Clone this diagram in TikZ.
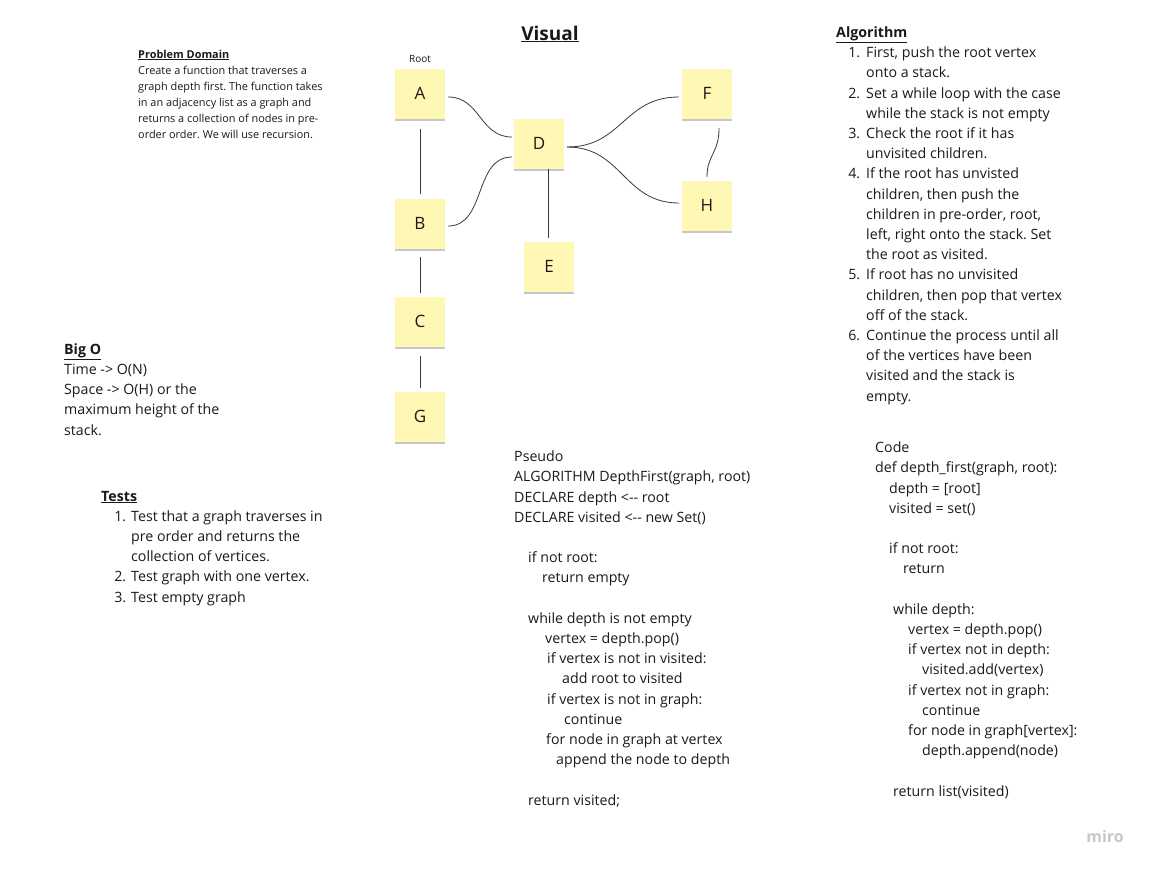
\documentclass[tikz,border=0pt]{standalone}
\usepackage{fontspec}
\setmainfont{Open Sans}
\usetikzlibrary{shadows}
\definecolor{sticky}{HTML}{FFF8B4}
\definecolor{ink}{HTML}{1A1A1A}
\definecolor{edgec}{HTML}{3A3A3A}
\definecolor{logoc}{HTML}{C8C8C8}
\newcommand{\ul}[1]{\underline{#1}}
\frenchspacing
\begin{document}
\begin{tikzpicture}[x=1pt,y=-1pt,
  note/.style={fill=sticky, minimum width=50pt, minimum height=50pt, inner sep=0pt,
    font=\fontsize{17}{20}\selectfont, text=ink,
    drop shadow={shadow xshift=0pt, shadow yshift=-2.5pt, opacity=0.22, fill=black}},
  edge/.style={draw=edgec, line width=0.8pt},
  txt/.style={anchor=base west, align=left, inner sep=0pt, text=ink},
  body/.style={txt, font=\fontsize{14.2}{20.2}\selectfont},
  small/.style={txt, font=\fontsize{10.9}{16}\selectfont}]
\useasboundingbox[fill=white] (0,0) rectangle (1150,868);

% title
\node[txt, anchor=base, font=\fontsize{19}{22}\selectfont\bfseries] (title) at (550,40) {\ul{Visual}};

% problem domain (anchored at the baseline of its last line)
\node[small] (pd) at (138,138) {\textbf{\ul{Problem Domain}}\\
Create a function that traverses a\\
graph depth first. The function takes\\
in an adjacency list as a graph and\\
returns a collection of nodes in pre-\\
order order. We will use recursion.};

% Big O
\node[body] (bigo) at (64,435) {\textbf{\ul{Big O}}\\
Time -> O(N)\\
Space -> O(H) or the\\
maximum height of the\\
stack.};

% Tests
\node[body] (tests) at (101,602) {\textbf{\ul{Tests}}\\
\makebox[25pt][r]{1.}\hspace{5pt}Test that a graph traverses in\\
\hspace*{30pt}pre order and returns the\\
\hspace*{30pt}collection of vertices.\\
\makebox[25pt][r]{2.}\hspace{5pt}Test graph with one vertex.\\
\makebox[25pt][r]{3.}\hspace{5pt}Test empty graph};

% Algorithm
\node[body] (algo) at (836,401) {\textbf{\ul{Algorithm}}\\
\makebox[24pt][r]{1.}\hspace{6pt}First, push the root vertex\\
\hspace*{30pt}onto a stack.\\
\makebox[24pt][r]{2.}\hspace{6pt}Set a while loop with the case\\
\hspace*{30pt}while the stack is not empty\\
\makebox[24pt][r]{3.}\hspace{6pt}Check the root if it has\\
\hspace*{30pt}unvisited children.\\
\makebox[24pt][r]{4.}\hspace{6pt}If the root has unvisted\\
\hspace*{30pt}children, then push the\\
\hspace*{30pt}children in pre-order, root,\\
\hspace*{30pt}left, right onto the stack. Set\\
\hspace*{30pt}the root as visited.\\
\makebox[24pt][r]{5.}\hspace{6pt}If root has no unvisited\\
\hspace*{30pt}children, then pop that vertex\\
\hspace*{30pt}off of the stack.\\
\makebox[24pt][r]{6.}\hspace{6pt}Continue the process until all\\
\hspace*{30pt}of the vertices have been\\
\hspace*{30pt}visited and the stack is\\
\hspace*{30pt}empty.};

% Pseudo
\node[body] (pseudo) at (514,805) {Pseudo\\
ALGORITHM DepthFirst(graph, root)\\
DECLARE depth <-{}- root\\
DECLARE visited <-{}- new Set()\\
\mbox{}\\
\hspace*{14pt}if not root:\\
\hspace*{28pt}return empty\\
\mbox{}\\
\hspace*{14pt}while depth is not empty\\
\hspace*{31pt}vertex = depth.pop()\\
\hspace*{33pt}if vertex is not in visited:\\
\hspace*{48pt}add root to visited\\
\hspace*{33pt}if vertex is not in graph:\\
\hspace*{50pt}continue\\
\hspace*{32pt}for node in graph at vertex\\
\hspace*{42pt}append the node to depth\\
\mbox{}\\
\hspace*{14pt}return visited;};

% Code
\node[body] (code) at (875,796) {Code\\
def depth\_first(graph, root):\\
\hspace*{14pt}depth = [root]\\
\hspace*{14pt}visited = set()\\
\mbox{}\\
\hspace*{14pt}if not root:\\
\hspace*{28pt}return\\
\mbox{}\\
\hspace*{18pt}while depth:\\
\hspace*{33pt}vertex = depth.pop()\\
\hspace*{33pt}if vertex not in depth:\\
\hspace*{47pt}visited.add(vertex)\\
\hspace*{33pt}if vertex not in graph:\\
\hspace*{47pt}continue\\
\hspace*{33pt}for node in graph[vertex]:\\
\hspace*{47pt}depth.append(node)\\
\mbox{}\\
\hspace*{18pt}return list(visited)};

% root label
\node[txt, anchor=base, font=\fontsize{10}{12}\selectfont] (rootlbl) at (420,62) {Root};

% sticky notes
\node[note] (A) at (420,93.5) {A};
\node[note] (B) at (420,223.5) {B};
\node[note] (C) at (420,321.5) {C};
\node[note] (G) at (420,416.5) {G};
\node[note] (D) at (539,143.5) {D};
\node[note] (E) at (549,266.5) {E};
\node[note] (F) at (707,93.5) {F};
\node[note] (H) at (707,205.5) {H};

% connectors
\draw[edge] ([shift={(0,10)}]A.south) -- ([shift={(0,-4)}]B.north);
\draw[edge] ([shift={(0,8.5)}]B.south) -- ([shift={(0,-3)}]C.north);
\draw[edge] ([shift={(0,9.5)}]C.south) -- ([shift={(0,-3)}]G.north);
\draw[edge] ([shift={(3,3.5)}]A.east) .. controls +(32,0) and +(-32,0) .. ([shift={(-2,-6.5)}]D.west);
\draw[edge] ([shift={(3,2.5)}]B.east) .. controls +(38,0) and +(-38,0) .. ([shift={(-2,13.5)}]D.west);
\draw[edge] ([shift={(9,0)}]D.south) -- ([shift={(-1,-3)}]E.north);
\draw[edge] ([shift={(3,3.5)}]D.east) .. controls +(55,0) and +(-55,0) .. ([shift={(-3,3.5)}]F.west);
\draw[edge] ([shift={(3,3.5)}]D.east) .. controls +(55,0) and +(-55,0) .. ([shift={(-3,-2.5)}]H.west);
\draw[edge] ([shift={(12,9.5)}]F.south) .. controls +(0,25) and +(0,-22) .. ([shift={(0,-3.5)}]H.north);

% logo
\node[txt, anchor=base, font=\fontsize{16}{18}\selectfont\bfseries, text=logoc] (logo) at (1105,842) {miro};
\end{tikzpicture}
\end{document}
